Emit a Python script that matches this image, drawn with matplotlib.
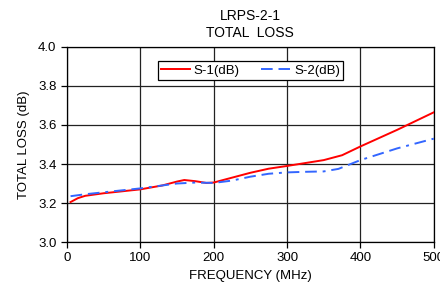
import matplotlib
matplotlib.use("Agg")
import matplotlib.pyplot as plt

plt.rcParams['font.family'] = ['Liberation Sans', 'DejaVu Sans']

s1_freq = [5, 15, 25, 50, 100, 130, 150, 160, 175, 190, 200, 225, 250, 275, 300, 325, 350, 375, 400, 450, 500]
s1_vals = [3.205, 3.225, 3.237, 3.25, 3.27, 3.29, 3.31, 3.318, 3.312, 3.303, 3.305, 3.33, 3.355, 3.376, 3.39, 3.405, 3.42, 3.445, 3.49, 3.575, 3.665]

s2_freq = [5, 25, 50, 100, 150, 175, 200, 225, 250, 275, 300, 325, 350, 370, 400, 450, 500]
s2_vals = [3.235, 3.245, 3.255, 3.275, 3.30, 3.305, 3.303, 3.315, 3.335, 3.35, 3.357, 3.36, 3.362, 3.375, 3.42, 3.48, 3.53]

x_ticks = [0, 100, 200, 300, 400, 500]
y_ticks = [3.0, 3.2, 3.4, 3.6, 3.8, 4.0]

fig = plt.figure(figsize=(4.4, 2.97), dpi=100)
ax = fig.add_axes([0.152, 0.185, 0.834, 0.657])

ax.plot(s1_freq, s1_vals, color='#ff0000', lw=1.4, label='S-1(dB)', zorder=3)
ax.plot(s2_freq, s2_vals, color='#3366ff', lw=1.4, dashes=(6, 3, 6, 3, 1.5, 3), label='S-2(dB)', zorder=3)

ax.set_xlim(0, 500)
ax.set_ylim(3.0, 4.0)
ax.set_xticks(x_ticks)
ax.set_yticks(y_ticks)
ax.set_xticklabels([str(v) for v in x_ticks])
ax.set_yticklabels([f'{v:.1f}' for v in y_ticks])
ax.grid(True, color='#222222', lw=0.9)
ax.tick_params(direction='out', length=4, width=0.9, labelsize=9.5, colors='black')
for sp in ax.spines.values():
    sp.set_color('black')
    sp.set_linewidth(0.9)

ax.set_xlabel('FREQUENCY (MHz)', fontsize=9.5, labelpad=4)
ax.set_ylabel('TOTAL LOSS (dB)', fontsize=9.5, labelpad=6)
ax.set_title('LRPS-2-1\nTOTAL  LOSS', fontsize=10, linespacing=1.25, pad=7)

leg = ax.legend(loc='upper center', ncol=2, fontsize=9.5, frameon=True, fancybox=False,
                edgecolor='black', framealpha=1, borderpad=0.25, handlelength=2.2,
                handletextpad=0.3, columnspacing=1.6, bbox_to_anchor=(0.5, 0.96))
leg.get_frame().set_linewidth(0.9)

fig.savefig('out.png', dpi=100)
